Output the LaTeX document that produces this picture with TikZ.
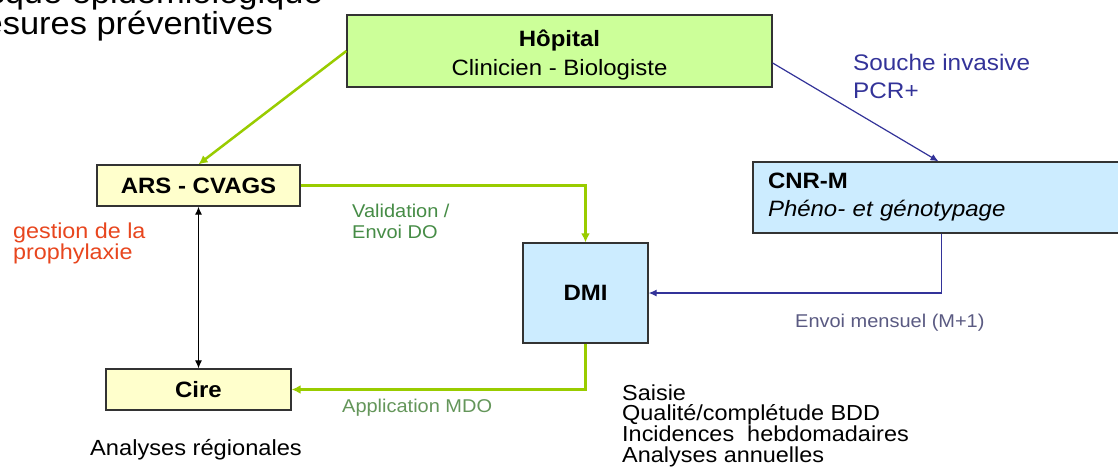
\documentclass[tikz,border=0pt]{standalone}
\usepackage{fontspec}
\setmainfont{Liberation Sans}[FakeStretch=1.08]
\usepackage{xcolor}
\usetikzlibrary{arrows.meta, positioning}

\definecolor{hopgreen}{RGB}{204,255,153}
\definecolor{paleyellow}{RGB}{255,255,204}
\definecolor{paleblue}{RGB}{204,236,255}
\definecolor{limeline}{RGB}{153,204,0}
\definecolor{indigoline}{RGB}{51,51,153}
\definecolor{labelgreen}{RGB}{70,140,70}
\definecolor{mdogreen}{RGB}{100,150,90}
\definecolor{labelred}{RGB}{232,70,30}
\definecolor{labelgray}{RGB}{90,90,130}

\begin{document}
\begin{tikzpicture}[
    x=1pt, y=-1pt,
    box/.style={rectangle, draw=black!80, line width=1.3pt, inner sep=0pt, align=center, font=\fontsize{22.2}{29}\selectfont\bfseries},
    greenarrow/.style={draw=limeline, line width=2.5pt, -{Latex[length=9pt,width=9pt]}},
    bluearrow/.style={draw=indigoline, line width=1.2pt, -{Latex[length=8pt,width=7pt]}},
    blackarrow/.style={draw=black, line width=1.2pt, {Latex[length=8pt,width=7pt]}-{Latex[length=8pt,width=7pt]}},
    lbl/.style={inner sep=0pt, font=\fontsize{21.9}{24}\selectfont},
    smalllbl/.style={inner sep=0pt, font=\fontsize{18.5}{21}\selectfont}
]
    \useasboundingbox (0,0) rectangle (1118,472);
    \clip (0,0) rectangle (1118,472);
    \fill[white] (0,0) rectangle (1118,472);

    % Title remains (cut by the page)
    \node[inner sep=0pt, font=\fontsize{31.9}{33}\selectfont, anchor=base east] (risque) at (323,3) {sque épidémiologique};
    \node[inner sep=0pt, font=\fontsize{31.9}{33}\selectfont, anchor=base east] (mesures) at (273,34) {esures préventives};

    % Boxes
    \node[box, fill=hopgreen, minimum width=425pt, minimum height=72pt] (hop) at (559.5,51) {\rule{0pt}{24pt}Hôpital\\{\mdseries Clinicien - Biologiste}};
    \node[box, fill=paleyellow, minimum width=203pt, minimum height=41pt] (ars) at (198.5,185.5) {ARS - CVAGS};
    \node[box, fill=paleyellow, minimum width=185pt, minimum height=41pt] (cire) at (198.5,389.5) {Cire};
    \node[box, fill=paleblue, minimum width=125pt, minimum height=100pt] (dmi) at (585.5,293) {DMI};
    \node[box, fill=paleblue, minimum width=377pt, minimum height=71pt, text width=347pt, inner xsep=15pt, align=left, font=\fontsize{22.2}{28}\selectfont\bfseries] (cnr) at (941.5,197.5) {CNR-M\\{\mdseries\itshape Phéno- et génotypage}};

    % Connections
    \draw[greenarrow] (hop.west) -- (ars.north);
    \draw[greenarrow] (ars.east) -| (dmi.north);
    \draw[greenarrow] (dmi.south) |- (cire.east);
    \draw[bluearrow] ([yshift=-12pt]hop.east) -- ([xshift=-3pt]cnr.north);
    \draw[bluearrow] (cnr.south) |- (dmi.east);
    \draw[blackarrow] (ars.south) -- (cire.north);

    % Labels
    \node[lbl, text=indigoline, anchor=west, align=left, font=\fontsize{22.5}{28}\selectfont] (souche) at (853,76.5) {Souche invasive\\PCR+};
    \node[lbl, text=labelred, anchor=west, align=left, font=\fontsize{21.6}{20}\selectfont] (gestion) at (13,243) {gestion de la\\prophylaxie};
    \node[smalllbl, text=labelgreen, anchor=west, align=left] (valid) at (352,221) {Validation /\\Envoi DO};
    \node[smalllbl, text=labelgray, anchor=base west] (mensuel) at (795,327) {Envoi mensuel (M+1)};
    \node[smalllbl, text=mdogreen, anchor=base west] (mdo) at (342,412) {Application MDO};
    \node[lbl, anchor=base west] (regional) at (90,455) {Analyses régionales};
    \node[lbl, anchor=west, align=left, font=\fontsize{21.7}{20.7}\selectfont] (dmitasks) at (622,425.7) {Saisie\\Qualité/complétude BDD\\Incidences\ \ hebdomadaires\\Analyses annuelles};

\end{tikzpicture}
\end{document}
